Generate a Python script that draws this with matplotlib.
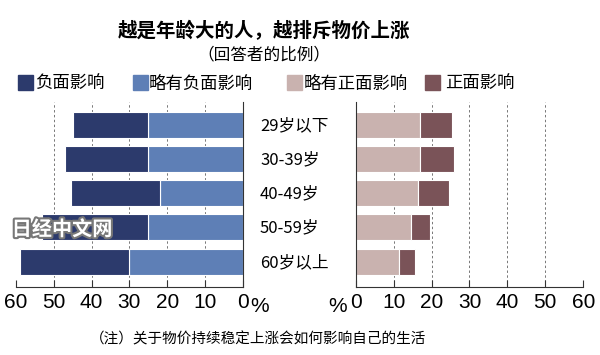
import matplotlib
matplotlib.use("Agg")
import matplotlib.pyplot as plt
import matplotlib.patheffects as pe
from matplotlib.patches import Rectangle

plt.rcParams['font.family'] = ['Noto Sans CJK SC', 'DejaVu Sans']

categories = ["29岁以下", "30-39岁", "40-49岁", "50-59岁", "60岁以上"]
negative = [20, 22, 23.5, 28, 29]
slight_negative = [25, 25, 22, 25, 30]
slight_positive = [17, 17, 16.5, 14.5, 11.5]
positive = [8.5, 9, 8, 5, 4]
ticks = [0, 10, 20, 30, 40, 50, 60]
legend_labels = ["负面影响", "略有负面影响", "略有正面影响", "正面影响"]
title = "越是年龄大的人，越排斥物价上涨"
subtitle = "（回答者的比例）"
note = "（注）关于物价持续稳定上涨会如何影响自己的生活"

c_neg = "#2c3a6c"
c_sneg = "#5e7fb6"
c_spos = "#c9b2af"
c_pos = "#7a5358"

fig = plt.figure(figsize=(6, 3.55), dpi=100)
axL = fig.add_axes([0.0267, 0.1915, 0.378, 0.521])
axR = fig.add_axes([0.593, 0.1915, 0.379, 0.521])

y = list(range(len(categories)))
h = 0.76
axL.barh(y, slight_negative, height=h, color=c_sneg, edgecolor="white", linewidth=0.8, zorder=2)
axL.barh(y, negative, left=slight_negative, height=h, color=c_neg, edgecolor="white", linewidth=0.8, zorder=2)
axR.barh(y, slight_positive, height=h, color=c_spos, edgecolor="white", linewidth=0.8, zorder=2)
axR.barh(y, positive, left=slight_positive, height=h, color=c_pos, edgecolor="white", linewidth=0.8, zorder=2)

for ax in (axL, axR):
    ax.set_ylim(4.74, -0.66)
    ax.set_yticks([])
    ax.set_xticks(ticks)
    ax.set_xticklabels([str(t) for t in ticks], fontsize=15, family=['Liberation Sans', 'DejaVu Sans'])
    ax.tick_params(axis='x', direction='in', length=5, width=0.8, color="#333333", pad=4)
    ax.spines['top'].set_visible(False)
    for t in ticks[1:-1]:
        ax.axvline(t, color="#777777", linestyle=(0, (2.5, 2.5)), linewidth=0.7, zorder=1)
    ax.spines['bottom'].set_color("#333333")

axL.set_xlim(60, 0)
axL.spines['left'].set_visible(False)
axL.spines['right'].set_color("#333333")
axR.set_xlim(0, 60)
axR.spines['right'].set_visible(False)
axR.spines['left'].set_color("#333333")

# percent signs
fig.text(250 / 600, 1 - 307 / 355, "%", fontsize=15, family=['Liberation Sans'], va='center', ha='left')
fig.text(347 / 600, 1 - 307 / 355, "%", fontsize=15, family=['Liberation Sans'], va='center', ha='right')

# category labels
for i, c in enumerate(categories):
    fig.text(260 / 600, 1 - (125.5 + 34.2 * i) / 355, c, fontsize=12, va='center', ha='left')

# titles
fig.text(0.44, 1 - 31 / 355, title, fontsize=14, fontweight='bold', ha='center', va='center')
fig.text(0.44, 1 - 55 / 355, subtitle, fontsize=12, ha='center', va='center')
fig.text(0.43, 1 - 339 / 355, note, fontsize=10.5, ha='center', va='center')

# legend
leg_x = [18, 133, 287, 425]
leg_off = [17, 16, 17, 20]
leg_colors = [c_neg, c_sneg, c_spos, c_pos]
for x, off, col, lab in zip(leg_x, leg_off, leg_colors, legend_labels):
    fig.patches.append(Rectangle((x / 600, 1 - 90 / 355), 15 / 600, 15 / 355,
                                 transform=fig.transFigure, color=col, figure=fig))
    fig.text((x + off) / 600, 1 - 84 / 355, lab, fontsize=12.5, ha='left', va='center')

# watermark
fig.text(62 / 600, 1 - 229 / 355, "日经中文网", fontsize=14.5, fontweight='bold', color="white",
         ha='center', va='center',
         path_effects=[pe.withStroke(linewidth=3, foreground="#777777")])

fig.savefig("out.png", dpi=100)
